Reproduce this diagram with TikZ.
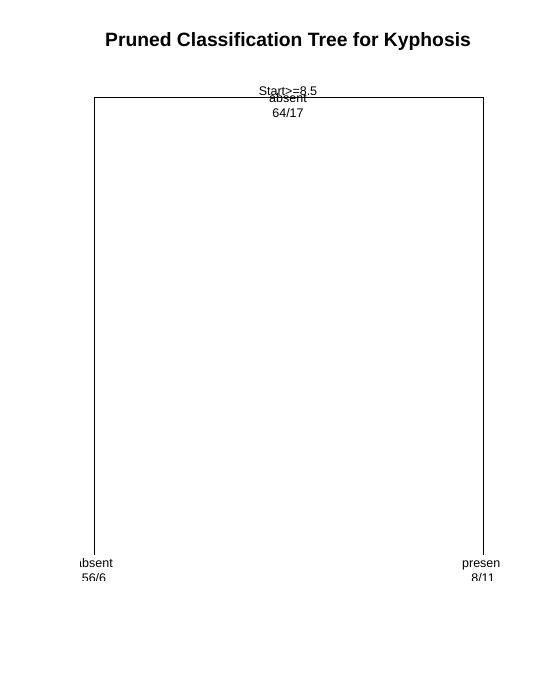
\documentclass[tikz,border=0pt]{standalone}
\usepackage{fontspec}
\setmainfont{Liberation Sans}
\usepackage{xcolor}
\usetikzlibrary{positioning,calc}
\tikzset{
  treetitle/.style={anchor=base, inner sep=0pt, font=\fontsize{19.3}{22}\selectfont\bfseries},
  splitlabel/.style={anchor=base, inner sep=0pt, font=\fontsize{12.5}{15}\selectfont},
  leaflabel/.style={anchor=base, inner sep=0pt, font=\fontsize{12.5}{15}\selectfont},
  branch/.style={draw=black, line width=1pt},
}

\begin{document}
\begin{tikzpicture}[x=1pt, y=-1pt]
\useasboundingbox (0,0) rectangle (538,677);

% Title
\node[treetitle] (title) at (288,47) {Pruned Classification Tree for Kyphosis};

% Tree skeleton
\coordinate (root) at (288.5,97);
\coordinate (lleaf) at (94,555);
\coordinate (rleaf) at (483,555);
\draw[branch] (lleaf) -- (lleaf |- root) -- (rleaf |- root) -- (rleaf);

\begin{scope}
\clip (80,60) rectangle (499,580);

% Root split
\node[splitlabel] (split) at (288,95) {Start>=8.5};
\node[splitlabel] (rootclass) at (288,102) {absent};
\node[splitlabel] (rootcount) at (288,117) {64/17};

% Leaf 1
\node[leaflabel] (lclass) at (94,567) {absent};
\node[leaflabel] (lcount) at (94,582.5) {56/6};

% Leaf 2
\node[leaflabel] (rclass) at (483,567) {present};
\node[leaflabel] (rcount) at (483,582.5) {8/11};
\end{scope}

\end{tikzpicture}
\end{document}
